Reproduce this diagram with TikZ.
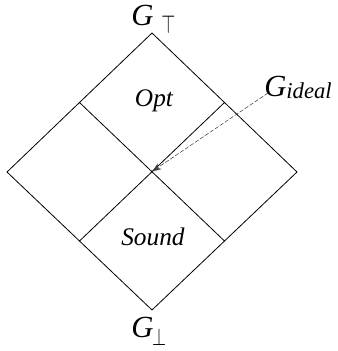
\documentclass[tikz,border=0pt]{standalone}
\usepackage{fontspec}
\setmainfont{Liberation Serif}
\usepackage{tkz-euclide}
\usetikzlibrary{calc,arrows.meta}
\newcommand{\gtopsym}{\raisebox{-6pt}{\resizebox{10.5pt}{13.5pt}{$\top$}}}
\newcommand{\gbotsym}{\raisebox{-6pt}{\resizebox{10.5pt}{12.75pt}{$\bot$}}}

\begin{document}
\begin{tikzpicture}[x=0.75pt,y=-0.75pt,>={Stealth[length=7pt,width=5pt]}, line join=round, line cap=round,
    lbl/.style={font=\fontsize{19}{19}\selectfont\itshape, inner sep=0pt},
    glbl/.style={font=\fontsize{23}{23}\selectfont\itshape, inner sep=0pt, anchor=base west}]
        \useasboundingbox (0,0) rectangle (337,351);
        \tkzDefPoints{152/33/T,297/172/R,152/310/B,7/172/L}
        \coordinate (O) at ($(T)!1/2!(B)$);
        \coordinate (TL) at ($(T)!1/2!(L)$);
        \coordinate (TR) at ($(T)!1/2!(R)$);
        \coordinate (BL) at ($(B)!1/2!(L)$);
        \coordinate (BR) at ($(B)!1/2!(R)$);
        \tkzDrawPolygon[line width=0.6pt,color=black](T,R,B,L)
        \tkzDrawSegments[line width=0.6pt,color=black](TL,BR TR,BL)
        \node[lbl, anchor=base] (opt) at (154,106) {Opt};
        \node[lbl, anchor=base] (sound) at (153,245) {Sound};
        \node[glbl] (gtop) at (131,25) {G\kern6pt\gtopsym};
        \node[glbl] (gbot) at (131,337) {G\kern-1pt\gbotsym};
        \node[glbl] (gid) at (264,96) {G\raisebox{-2pt}{\fontsize{17}{17}\selectfont ideal}};
        \coordinate (S) at (268,93);
        \draw[->, line width=0.4pt, black!75, dash pattern=on 3pt off 1.5pt] (S) -- (O);
\end{tikzpicture}
\end{document}
